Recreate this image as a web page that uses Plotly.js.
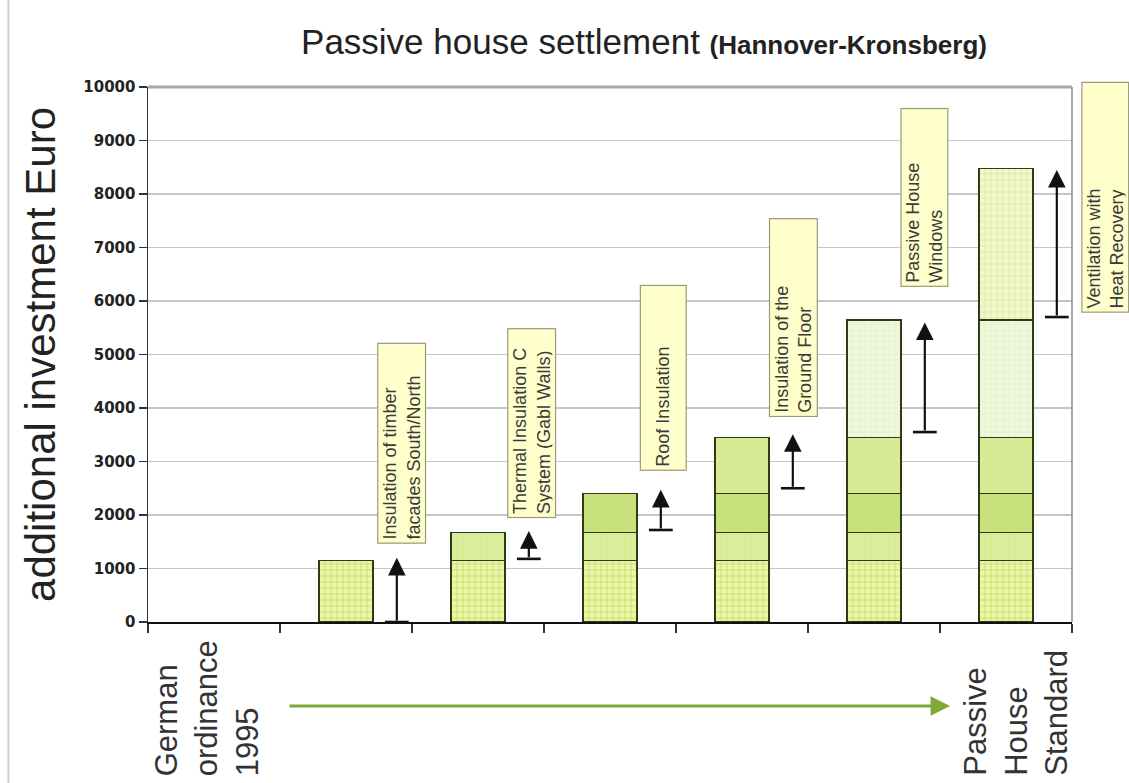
<!DOCTYPE html>
<html>
<head>
<meta charset="utf-8">
<script src="https://cdn.plot.ly/plotly-3.0.1.min.js"></script>
<style>
html,body{margin:0;padding:0;background:#ffffff;}
#chart{width:1129px;height:783px;}
</style>
</head>
<body>
<div id="chart"></div>
<script>
// ---------------- DATA ----------------
const categories = ['German ordinance 1995', 'Step 1', 'Step 2', 'Step 3', 'Step 4', 'Step 5', 'Passive House Standard'];
const measures = [
  'Insulation of timber<br>facades South/North',
  'Thermal Insulation C<br>System (Gabl Walls)',
  'Roof Insulation',
  'Insulation of the<br>Ground Floor',
  'Passive House<br>Windows',
  'Ventilation with<br>Heat Recovery'
];
const stepCosts = [1150, 520, 730, 1050, 2200, 2830];      // Euro added by each measure
const arrowFrom = [0, 1180, 1720, 2500, 3550, 5700];       // arrow base (Euro)
const arrowTo   = [1200, 1700, 2470, 3510, 5600, 8450];    // arrow tip (Euro)
const labelY    = [3340, 3720, 4560, 5690, 7930, 7930];    // centre of the label boxes (Euro)
const startLabel = 'German<br>ordinance<br>1995';
const endLabel = 'Passive<br>House<br>Standard';

// ---------------- STYLE ----------------
const FONT = 'Arial, "Liberation Sans", sans-serif';
const segStyles = [
  {bg:'#eef6a6', fg:'#bfd96c', shape:'+', size:6, solidity:0.25},
  {bg:'#dbee9e', fg:'#cfe48a', shape:'+', size:6, solidity:0.15},
  {bg:'#c9e17c', fg:'#c9e17c', shape:'', size:6, solidity:0.2},
  {bg:'#d6eb94', fg:'#d6eb94', shape:'', size:6, solidity:0.2},
  {bg:'#eff7dc', fg:'#dcebbd', shape:'+', size:6, solidity:0.15},
  {bg:'#f1f8cc', fg:'#d2e69c', shape:'+', size:6, solidity:0.2}
];
const labelXOffset = [0.42, 0.41, 0.40, 0.39, 0.38, 0.75]; // relative to category centre
const labelLen = [193, 182, 178, 191, 171, 223];
const labelThick = [41, 41, 39, 41, 40, 40];
const arrowXOffset = 0.385;

const nCat = categories.length;
const xIdx = categories.map((c, i) => i);

// stacked segments
const traces = stepCosts.map((v, s) => ({
  type: 'bar',
  x: xIdx,
  y: xIdx.map(j => (j >= s + 1 ? v : null)),
  name: measures[s].replace('<br>', ' '),
  width: 0.41,
  marker: {
    color: segStyles[s].bg,
    line: {color: '#2f3b14', width: 1.6},
    pattern: {
      shape: segStyles[s].shape,
      bgcolor: segStyles[s].bg,
      fgcolor: segStyles[s].fg,
      size: segStyles[s].size,
      solidity: segStyles[s].solidity,
      fillmode: 'replace'
    }
  },
  hoverinfo: 'y+name',
  showlegend: false
}));

const toPaperX = v => (v + 0.5) / nCat;

const annotations = [];
const shapes = [];

// label boxes
measures.forEach((m, i) => {
  annotations.push({
    xref: 'paper', yref: 'y',
    x: toPaperX(i + 1 + labelXOffset[i]), y: labelY[i],
    xanchor: 'center', yanchor: 'middle',
    text: m, textangle: -90, showarrow: false,
    align: 'left', valign: 'middle',
    width: labelLen[i], height: labelThick[i],
    bgcolor: '#ffffcc', bordercolor: '#9a9a7a', borderwidth: 1.2, borderpad: 3,
    font: {family: FONT, size: 18, color: '#3a3a3a'}
  });
});

// step arrows
arrowFrom.forEach((f, i) => {
  const ax = i + 1 + arrowXOffset;
  annotations.push({
    xref: 'x', yref: 'y', axref: 'x', ayref: 'y',
    x: ax, y: arrowTo[i], ax: ax, ay: f,
    text: '', showarrow: true,
    arrowhead: 2, arrowsize: 1.6, arrowwidth: 2.2, arrowcolor: '#111111', standoff: 0
  });
  shapes.push({
    type: 'line', xref: 'x', yref: 'y',
    x0: ax - 0.09, x1: ax + 0.09, y0: f, y1: f,
    line: {color: '#111111', width: 2.6}
  });
});

// bottom labels
annotations.push({
  xref: 'paper', yref: 'paper', x: 0.064, y: -0.292,
  xanchor: 'center', yanchor: 'bottom',
  text: startLabel, textangle: -90, showarrow: false, align: 'left',
  font: {family: FONT, size: 31, color: '#333333'}
});
annotations.push({
  xref: 'paper', yref: 'paper', x: 0.94, y: -0.292,
  xanchor: 'center', yanchor: 'bottom',
  text: endLabel, textangle: -90, showarrow: false, align: 'left',
  font: {family: FONT, size: 31, color: '#333333'}
});
// green progress arrow
annotations.push({
  xref: 'paper', yref: 'paper', x: 0.868, y: -0.157,
  axref: 'pixel', ayref: 'pixel', ax: -662, ay: 0,
  text: '', showarrow: true,
  arrowhead: 2, arrowsize: 1.3, arrowwidth: 3, arrowcolor: '#7fa934', standoff: 0
});

// frame lines: top (thick grey) and right
shapes.push({type:'line', xref:'paper', yref:'paper', x0:0, x1:1, y0:1, y1:1, line:{color:'#a8a8a8', width:3}});
shapes.push({type:'line', xref:'paper', yref:'paper', x0:1, x1:1, y0:0, y1:1, line:{color:'#8a8a8a', width:1.5}});
// faint image border on far left
shapes.push({type:'line', xref:'paper', yref:'paper', x0:-0.151, x1:-0.151, y0:-0.31, y1:1.17, line:{color:'#cfcfcf', width:2}});

const layout = {
  width: 1129, height: 783,
  paper_bgcolor: '#ffffff', plot_bgcolor: '#ffffff',
  margin: {l: 148, r: 57, t: 87, b: 161},
  barmode: 'stack',
  font: {family: FONT, color: '#222222'},
  title: {
    text: 'Passive house settlement <b><span style="font-size:26px">(Hannover-Kronsberg)</span></b>',
    font: {family: FONT, size: 35, color: '#222222'},
    x: 0.5368, xanchor: 'center', xref: 'paper',
    y: 0.947, yanchor: 'middle', yref: 'container'
  },
  xaxis: {
    type: 'linear', range: [-0.5, nCat - 0.5],
    tickvals: xIdx.concat([nCat]).map(i => i - 0.5),
    ticktext: xIdx.concat([nCat]).map(() => ''),
    ticks: 'outside', ticklen: 9, tickwidth: 1.2, tickcolor: '#333333',
    showline: true, linecolor: '#111111', linewidth: 1.6,
    showgrid: false, zeroline: false, fixedrange: true
  },
  yaxis: {
    range: [0, 10000], dtick: 1000, tick0: 0, tickformat: 'd',
    ticks: 'outside', ticklen: 8, tickwidth: 1.2, tickcolor: '#333333',
    tickfont: {family: '"DejaVu Sans", Verdana, sans-serif', size: 15, weight: 700, color: '#222222'},
    showline: true, linecolor: '#333333', linewidth: 1.5,
    showgrid: true, gridcolor: '#c6c6c6', gridwidth: 1.2,
    zeroline: false, fixedrange: true,
    title: {text: 'additional investment Euro', font: {family: FONT, size: 42, color: '#222222'}, standoff: 14}
  },
  annotations: annotations,
  shapes: shapes
};

Plotly.newPlot('chart', traces, layout, {displayModeBar: false, staticPlot: true});
</script>
</body>
</html>
